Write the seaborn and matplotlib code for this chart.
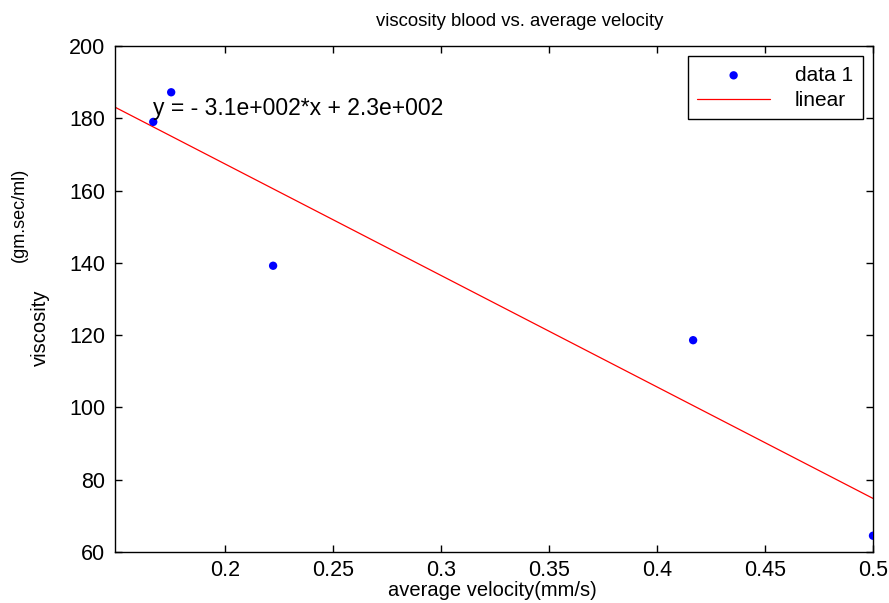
import numpy as np
import pandas as pd
import matplotlib
matplotlib.use("Agg")
import matplotlib.pyplot as plt
from matplotlib.ticker import FuncFormatter
import seaborn as sns

# values
velocity = [0.1667, 0.175, 0.2222, 0.4167, 0.5]
viscosity = [179.0, 187.2, 139.2, 118.6, 64.5]
x_ticks = [0.2, 0.25, 0.3, 0.35, 0.4, 0.45, 0.5]
y_ticks = [60, 80, 100, 120, 140, 160, 180, 200]

sns.set_style("ticks")
plt.rcParams['font.family'] = ['Liberation Sans', 'DejaVu Sans']
plt.rcParams['text.color'] = 'black'
plt.rcParams['axes.labelcolor'] = 'black'

df = pd.DataFrame({'velocity': velocity, 'viscosity': viscosity})

# linear fit like MATLAB basic fitting
slope, intercept = np.polyfit(df['velocity'], df['viscosity'], 1)
xlim = (0.149, 0.5)
fit = pd.DataFrame({'velocity': np.linspace(xlim[0], xlim[1], 50)})
fit['viscosity'] = slope * fit['velocity'] + intercept

fig = plt.figure(figsize=(8.89, 6.03), dpi=100)
ax = fig.add_axes([0.1294, 0.0846, 0.8526, 0.8391])

sns.scatterplot(data=df, x='velocity', y='viscosity', ax=ax, color='#0000ff',
                s=36, edgecolor='none', label='data 1', zorder=3)
sns.lineplot(data=fit, x='velocity', y='viscosity', ax=ax, color='#ff0000',
             linewidth=0.9, label='linear')

ax.set_xlim(*xlim)
ax.set_ylim(60, 200)
ax.set_xticks(x_ticks)
ax.set_yticks(y_ticks)
ax.xaxis.set_major_formatter(FuncFormatter(lambda v, p: '%g' % v))
ax.tick_params(direction='in', top=True, right=True, length=5, width=1,
               labelsize=15.5, colors='black')
ax.tick_params(axis='x', pad=6)
ax.tick_params(axis='y', pad=7)
for sp in ax.spines.values():
    sp.set_visible(True)
    sp.set_color('black')
    sp.set_linewidth(1)

ax.set_xlabel('')
ax.set_ylabel('')

fig.text(492 / 889, 1 - 590 / 603, 'average velocity(mm/s)',
         ha='center', va='center', fontsize=14.5)
fig.text(520 / 889, 1 - 22 / 603, 'viscosity blood vs. average velocity',
         ha='center', va='center', fontsize=13.3)
fig.text(40 / 889, 1 - 328 / 603, 'viscosity', rotation=90,
         ha='center', va='center', fontsize=14.5)
fig.text(19 / 889, 1 - 215 / 603, '(gm.sec/ml)', rotation=90,
         ha='center', va='center', fontsize=13)

# MATLAB style equation text
eq = 'y = - %.1e*x + %.1e' % (abs(slope), intercept)
eq = eq.replace('e+02', 'e+002')
ax.text(0.1667, 182.8, eq, fontsize=16.5, va='center', ha='left')

leg = ax.legend(loc='upper right', fontsize=15, frameon=True, fancybox=False,
                edgecolor='black', borderaxespad=0.5, handlelength=3.5,
                handletextpad=1.2, borderpad=0.45, labelspacing=0.3)
leg.get_frame().set_linewidth(1)
leg.get_frame().set_alpha(1)

fig.savefig('out.png', dpi=100)
